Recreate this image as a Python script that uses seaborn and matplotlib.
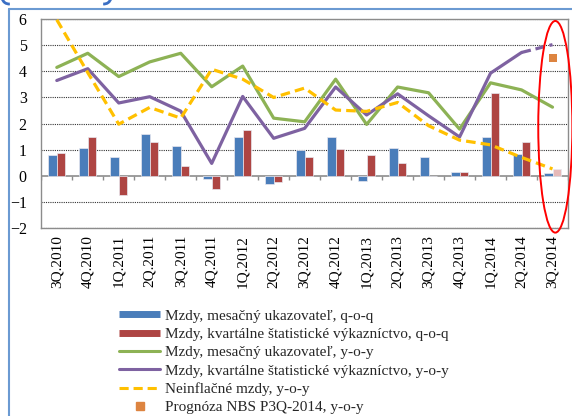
import numpy as np
import pandas as pd
import matplotlib
matplotlib.use("Agg")
import matplotlib.pyplot as plt
import seaborn as sns
from matplotlib.patches import Ellipse, Arc
from matplotlib.lines import Line2D

# Data
quarters = ["3Q.2010", "4Q.2010", "1Q.2011", "2Q.2011", "3Q.2011", "4Q.2011",
            "1Q.2012", "2Q.2012", "3Q.2012", "4Q.2012", "1Q.2013", "2Q.2013",
            "3Q.2013", "4Q.2013", "1Q.2014", "2Q.2014", "3Q.2014"]
mes_qoq = [0.82, 1.08, 0.74, 1.60, 1.13, -0.12, 1.49, -0.30, 0.98, 1.49, -0.20,
           1.08, 0.74, 0.15, 1.49, 0.83, 0.12]
kvart_qoq = [0.89, 1.49, -0.71, 1.31, 0.38, -0.48, 1.74, -0.24, 0.74, 1.05, 0.79,
             0.50, 0.0, 0.15, 3.17, 1.31, 0.27]
mes_yoy = [4.15, 4.69, 3.80, 4.36, 4.69, 3.41, 4.20, 2.21, 2.07, 3.70, 1.97,
           3.40, 3.18, 1.79, 3.56, 3.29, 2.63]
kvart_yoy = [3.65, 4.10, 2.79, 3.03, 2.48, 0.48, 3.04, 1.44, 1.82, 3.40, 2.33,
             3.14, 2.30, 1.49, 3.93, 4.72, 5.02]
neinfl_yoy = [5.97, 3.95, 1.98, 2.62, 2.21, 4.08, 3.70, 3.00, 3.36, 2.52, 2.47,
              2.81, 1.92, 1.37, 1.19, 0.71, 0.27]
prognoza_q = ["3Q.2014"]
prognoza = [4.5]

labels = ["Mzdy, mesačný ukazovateľ, q-o-q",
          "Mzdy, kvartálne štatistické výkazníctvo, q-o-q",
          "Mzdy, mesačný ukazovateľ, y-o-y",
          "Mzdy, kvartálne štatistické výkazníctvo, y-o-y",
          "Neinflačné mzdy, y-o-y",
          "Prognóza NBS P3Q-2014, y-o-y"]

blue = "#4A7DBA"
red = "#AE4543"
green = "#8DB255"
purple = "#7E62A1"
yellow = "#FFC000"
orange = "#DD8440"
pink = "#E6B9B8"
frame_blue = "#6B9AD2"
axis_gray = "#8C8C8C"

sns.set_theme(style="white")
plt.rcParams['font.family'] = ['Liberation Serif', 'DejaVu Serif']

fig = plt.figure(figsize=(5.72, 4.16), dpi=100)
ax = fig.add_axes([41.3 / 572, 1 - 228.3 / 416, (568 - 41.3) / 572, (228.3 - 19) / 416])

# Bars (q-o-q)
bars = pd.DataFrame({
    "kvartal": quarters * 2,
    "hodnota": mes_qoq + kvart_qoq,
    "rad": [labels[0]] * len(quarters) + [labels[1]] * len(quarters),
})
sns.barplot(data=bars, x="kvartal", y="hodnota", hue="rad", palette=[blue, red],
            width=0.56, saturation=1, errorbar=None, legend=False, ax=ax, zorder=2,
            edgecolor="#E8E8F0", linewidth=0.5)
ax.containers[1][len(quarters) - 1].set_facecolor(pink)

# Lines (y-o-y)
x = np.arange(len(quarters))
sns.lineplot(x=x, y=mes_yoy, color=green, lw=2.3, ax=ax, zorder=4)
sns.lineplot(x=x[:-1], y=kvart_yoy[:-1], color=purple, lw=2.3, ax=ax, zorder=4)
sns.lineplot(x=x[-2:], y=kvart_yoy[-2:], color=purple, lw=2.3, ax=ax, zorder=4,
             linestyle=(0, (3, 1.5)))
sns.lineplot(x=x, y=neinfl_yoy, color=yellow, lw=2.3, ax=ax, zorder=5,
             linestyle=(0, (3, 1.6)))
sns.scatterplot(x=[quarters.index(q) for q in prognoza_q], y=prognoza, marker="s",
                s=38, color=orange, linewidth=0, ax=ax, zorder=6)

# Axes styling
ax.set_xlim(-0.5, len(quarters) - 0.5)
ax.set_ylim(-2, 6)
ax.set_yticks(range(-2, 7))
ax.set_xlabel("")
ax.set_ylabel("")
ax.yaxis.grid(True, linestyle=(0, (1, 1)), color="#333333", lw=0.8)
ax.get_ygridlines()[2].set_visible(False)
ax.set_axisbelow(True)
for s in ax.spines.values():
    s.set_color(axis_gray)
    s.set_linewidth(1)
ax.tick_params(axis="y", length=0, pad=10.5, labelsize=11.5, colors="black")
ax.tick_params(axis="x", length=0, pad=5, labelsize=11, rotation=90, colors="black")

# zero line with category tick marks
ax.axhline(0, color=axis_gray, lw=1.2, zorder=1.5)
ax.vlines(np.arange(len(quarters) + 1) - 0.5, -0.15, 0, color=axis_gray, lw=1, zorder=1.5)

# highlight ellipse
ax.add_patch(Ellipse((16.09, 1.88), 1.1, 8.09, fill=False, edgecolor="red",
                     lw=1.4, clip_on=False, zorder=7))

# Legend
handles = [
    Line2D([], [], color=blue, lw=5, solid_capstyle="butt"),
    Line2D([], [], color=red, lw=5, solid_capstyle="butt"),
    Line2D([], [], color=green, lw=2.2),
    Line2D([], [], color=purple, lw=2.2),
    Line2D([], [], color=yellow, lw=2.2, linestyle=(0, (3, 1.6))),
    Line2D([], [], color=orange, marker="s", markersize=6, linestyle="none"),
]
fig.legend(handles, labels, loc="upper left", bbox_to_anchor=(119 / 572, 1 - 309 / 416),
           frameon=False, fontsize=11, handlelength=2.7, handletextpad=0.3,
           labelspacing=0.3, borderpad=0, borderaxespad=0)

# frame bits from the surrounding slide
fig.add_artist(Line2D([9 / 572, 1], [1 - 8.5 / 416] * 2, transform=fig.transFigure,
                      color=frame_blue, lw=1.5))
fig.add_artist(Line2D([9 / 572] * 2, [0, 1 - 8.5 / 416], transform=fig.transFigure,
                      color=frame_blue, lw=1.5))
fig.add_artist(Arc((9 / 572, 1 + 3 / 416), 14 / 572, 14 / 416, theta1=195, theta2=275,
                   transform=fig.transFigure, color="#3A6FC4", lw=2))
fig.add_artist(Arc((104 / 572, 1 + 3 / 416), 14 / 572, 14 / 416, theta1=265, theta2=345,
                   transform=fig.transFigure, color="#3A6FC4", lw=2))

fig.savefig("out.png", dpi=100)
